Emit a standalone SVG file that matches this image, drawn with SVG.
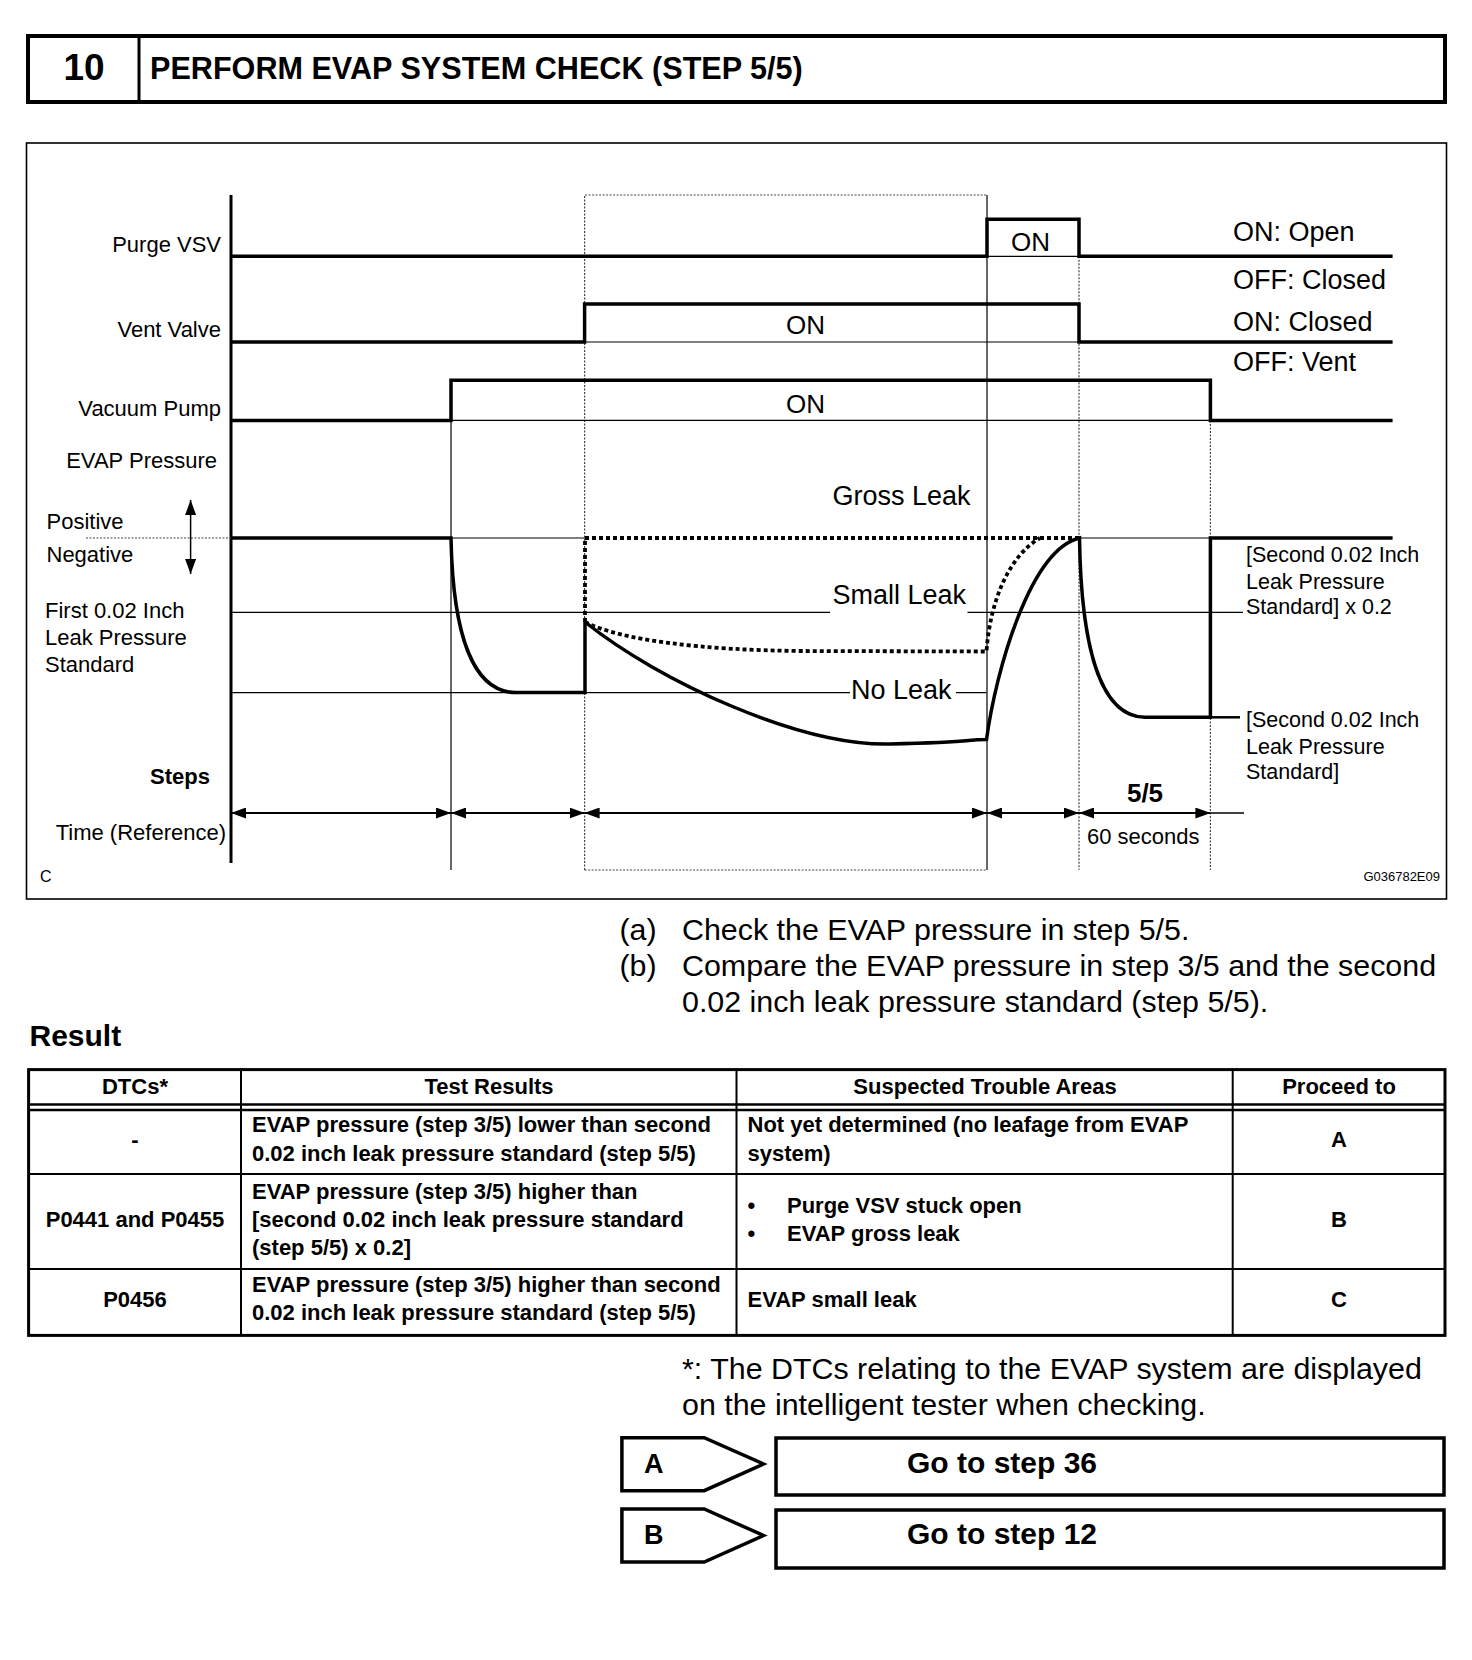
<svg xmlns="http://www.w3.org/2000/svg" width="1472" height="1660" viewBox="0 0 1472 1660">
<style>
text{font-family:"Liberation Sans",Arial,sans-serif;fill:#000}
.r22{font-size:22px}
.r21{font-size:21.5px}
.r27{font-size:27px}
.r30{font-size:30.4px}
.b22{font-size:22px;font-weight:bold}
.b30{font-size:30px;font-weight:bold}
.mid{text-anchor:middle}
.end{text-anchor:end}
.thick{fill:none;stroke:#000;stroke-width:3.5;stroke-linejoin:miter}
.thin{fill:none;stroke:#000;stroke-width:1.2}
.dot{fill:none;stroke:#444;stroke-width:1.2;stroke-dasharray:2 1.5}
.dash{fill:none;stroke:#000;stroke-width:3.8;stroke-dasharray:4 3}
.frame{fill:none;stroke:#000;stroke-width:1.6}
.box{fill:#fff;stroke:#000;stroke-width:3.5}
.tl{stroke:#000;stroke-width:2;fill:none}
</style>
<defs>
<marker id="ah" viewBox="0 0 15 11" refX="15" refY="5.5" markerWidth="15" markerHeight="11" markerUnits="userSpaceOnUse" orient="auto-start-reverse">
<path d="M0,0 L15,5.5 L0,11 Z" fill="#000"/>
</marker>
</defs>

<g id="header">
<rect x="28" y="36" width="1417" height="66" fill="none" stroke="#000" stroke-width="4"/>
<line x1="139" y1="36" x2="139" y2="102" stroke="#000" stroke-width="3"/>
<text x="84" y="79.5" class="mid" style="font-size:37px;font-weight:bold">10</text>
<text x="150" y="78.5" style="font-size:30.6px;font-weight:bold">PERFORM EVAP SYSTEM CHECK (STEP 5/5)</text>
</g>

<g id="chart">
<rect x="26.5" y="143" width="1420" height="756" class="frame"/>
<line x1="231" y1="195" x2="231" y2="863" stroke="#000" stroke-width="3"/>
<line x1="451" y1="420.4" x2="451" y2="870" class="thin"/>
<line x1="987" y1="195" x2="987" y2="870" class="thin"/>
<path d="M584.6,870 V195 H987 M584.6,870 H987" class="dot"/>
<line x1="1079" y1="256.3" x2="1079" y2="870" class="dot"/>
<line x1="1210.4" y1="420.4" x2="1210.4" y2="870" class="dot"/>
<line x1="987" y1="256.3" x2="1079" y2="256.3" class="thin"/>
<line x1="584.6" y1="342" x2="1079" y2="342" class="thin"/>
<line x1="451" y1="420.4" x2="1210.4" y2="420.4" class="thin"/>
<line x1="86" y1="538" x2="231" y2="538" class="dot"/>
<line x1="451" y1="538" x2="585" y2="538" class="thin"/>
<line x1="1079" y1="538" x2="1210.4" y2="538" class="thin"/>
<path d="M231,612.3 H830 M967.5,612.3 H1243" class="thin"/>
<path d="M231,692.6 H516 M585,692.6 H850 M956,692.6 H986.5" class="thin"/>
<line x1="1210.4" y1="717.3" x2="1240" y2="717.3" stroke="#000" stroke-width="2.5"/>
</g>

<g id="labels-left">
<text x="221" y="252" class="r22 end">Purge VSV</text>
<text x="221" y="337" class="r22 end">Vent Valve</text>
<text x="221" y="416" class="r22 end">Vacuum Pump</text>
<text x="217" y="468" class="r22 end">EVAP Pressure</text>
<text x="46.5" y="529" class="r22">Positive</text>
<text x="46.5" y="561.5" class="r22">Negative</text>
<line x1="190.6" y1="500" x2="190.6" y2="574" stroke="#000" stroke-width="1.5" marker-start="url(#ah)" marker-end="url(#ah)"/>
<text x="45" y="618" class="r22">First 0.02 Inch</text>
<text x="45" y="645" class="r22">Leak Pressure</text>
<text x="45" y="671.5" class="r22">Standard</text>
<text x="210" y="784" class="b22 end">Steps</text>
<text x="226" y="840" class="r22 end">Time (Reference)</text>
<text x="40" y="882" style="font-size:16px">C</text>
<text x="1440" y="881" class="end" style="font-size:13px">G036782E09</text>
</g>

<g id="signals">
<path d="M231,256.3 H987 V219.3 H1079 V256.3 H1392.6" class="thick"/>
<text x="1030.5" y="251" class="mid" style="font-size:26px">ON</text>
<path d="M231,342 H584.6 V304 H1079 V342 H1392.6" class="thick"/>
<text x="805.5" y="334" class="mid" style="font-size:26px">ON</text>
<path d="M231,420.4 H451 V380.2 H1210.4 V420.4 H1392.6" class="thick"/>
<text x="805.5" y="412.5" class="mid" style="font-size:26px">ON</text>
<text x="1233" y="240.5" class="r27">ON: Open</text>
<text x="1233" y="288.5" class="r27">OFF: Closed</text>
<text x="1233" y="330.5" class="r27">ON: Closed</text>
<text x="1233" y="370.5" class="r27">OFF: Vent</text>
</g>

<g id="pressure">
<path d="M231,538 H451 C453,640 475,692.6 516,692.6 H585 V622" class="thick"/>
<path d="M585,622 C660,682 800,746 890,744 S960,740 986.5,739.5 C996,670 1030,550 1079.5,538 C1081,640 1098,717 1145,717.3 H1210.4 V538 H1392.6" class="thick"/>
<path d="M585,622 C620,640 700,650 800,651 L986.5,651.5 C990,600 1010,555 1040,538" class="dash"/>
<path d="M585,622 V538 H1079.5" class="dash"/>
<text x="832.5" y="505" class="r27">Gross Leak</text>
<text x="832.5" y="604" class="r27">Small Leak</text>
<text x="851" y="698.5" class="r27">No Leak</text>
<text x="1246" y="562" class="r21">[Second 0.02 Inch</text>
<text x="1246" y="588.5" class="r21">Leak Pressure</text>
<text x="1246" y="613.5" class="r21">Standard] x 0.2</text>
<text x="1246" y="727" class="r21">[Second 0.02 Inch</text>
<text x="1246" y="753.5" class="r21">Leak Pressure</text>
<text x="1246" y="778.5" class="r21">Standard]</text>
</g>

<g id="connectors">
<line x1="231" y1="813" x2="451" y2="813" stroke="#000" stroke-width="2" marker-start="url(#ah)" marker-end="url(#ah)"/>
<line x1="451" y1="813" x2="584.6" y2="813" stroke="#000" stroke-width="2" marker-start="url(#ah)" marker-end="url(#ah)"/>
<line x1="584.6" y1="813" x2="987" y2="813" stroke="#000" stroke-width="2" marker-start="url(#ah)" marker-end="url(#ah)"/>
<line x1="987" y1="813" x2="1079" y2="813" stroke="#000" stroke-width="2" marker-start="url(#ah)" marker-end="url(#ah)"/>
<line x1="1079" y1="813" x2="1210.4" y2="813" stroke="#000" stroke-width="2" marker-start="url(#ah)" marker-end="url(#ah)"/>
<line x1="1210.4" y1="813" x2="1244" y2="813" stroke="#000" stroke-width="1.5"/>
</g>
<text x="1145" y="802" class="mid" style="font-size:26px;font-weight:bold">5/5</text>
<text x="1087" y="844" class="r22">60 seconds</text>

<g id="instructions">
<text x="619.5" y="939.5" class="r30">(a)</text>
<text x="682" y="939.5" class="r30">Check the EVAP pressure in step 5/5.</text>
<text x="619.5" y="975.5" class="r30">(b)</text>
<text x="682" y="975.5" class="r30">Compare the EVAP pressure in step 3/5 and the second</text>
<text x="682" y="1011.5" class="r30">0.02 inch leak pressure standard (step 5/5).</text>
<text x="29.5" y="1046" class="b30">Result</text>
</g>

<g id="table">
<rect x="28.6" y="1069.6" width="1416.4" height="265.8" fill="none" stroke="#000" stroke-width="3"/>
<line x1="28.6" y1="1104.5" x2="1445" y2="1104.5" stroke="#000" stroke-width="2.5"/>
<line x1="28.6" y1="1110" x2="1445" y2="1110" stroke="#000" stroke-width="2.5"/>
<line x1="28.6" y1="1174" x2="1445" y2="1174" class="tl"/>
<line x1="28.6" y1="1269" x2="1445" y2="1269" class="tl"/>
<line x1="241" y1="1069.6" x2="241" y2="1335.4" class="tl"/>
<line x1="736.5" y1="1069.6" x2="736.5" y2="1335.4" class="tl"/>
<line x1="1232.7" y1="1069.6" x2="1232.7" y2="1335.4" class="tl"/>
<text x="135" y="1094" class="b22 mid">DTCs*</text>
<text x="489" y="1094" class="b22 mid">Test Results</text>
<text x="985" y="1094" class="b22 mid">Suspected Trouble Areas</text>
<text x="1339" y="1094" class="b22 mid">Proceed to</text>
<text x="135" y="1147" class="b22 mid">-</text>
<text x="252" y="1132" class="b22">EVAP pressure (step 3/5) lower than second</text>
<text x="252" y="1160.5" class="b22">0.02 inch leak pressure standard (step 5/5)</text>
<text x="747.5" y="1132" class="b22">Not yet determined (no leafage from EVAP</text>
<text x="747.5" y="1160.5" class="b22">system)</text>
<text x="1339" y="1147" class="b22 mid">A</text>
<text x="135" y="1227" class="b22 mid">P0441 and P0455</text>
<text x="252" y="1199" class="b22">EVAP pressure (step 3/5) higher than</text>
<text x="252" y="1227" class="b22">[second 0.02 inch leak pressure standard</text>
<text x="252" y="1254.5" class="b22">(step 5/5) x 0.2]</text>
<text x="747.5" y="1213" class="b22">•</text>
<text x="787" y="1213" class="b22">Purge VSV stuck open</text>
<text x="747.5" y="1240.5" class="b22">•</text>
<text x="787" y="1240.5" class="b22">EVAP gross leak</text>
<text x="1339" y="1227" class="b22 mid">B</text>
<text x="135" y="1307" class="b22 mid">P0456</text>
<text x="252" y="1292" class="b22">EVAP pressure (step 3/5) higher than second</text>
<text x="252" y="1320" class="b22">0.02 inch leak pressure standard (step 5/5)</text>
<text x="747.5" y="1307" class="b22">EVAP small leak</text>
<text x="1339" y="1307" class="b22 mid">C</text>
</g>

<g id="footnote">
<text x="682" y="1379" class="r30">*: The DTCs relating to the EVAP system are displayed</text>
<text x="682" y="1415" class="r30">on the intelligent tester when checking.</text>
</g>

<g id="result-A">
<path d="M621.9,1437.7 H704.2 L763.5,1464 L704.2,1490.7 H621.9 Z" class="box"/>
<text x="644" y="1473" style="font-size:27px;font-weight:bold">A</text>
<rect x="776" y="1438" width="668" height="57" class="box"/>
<text x="907" y="1473" class="b30">Go to step 36</text>
</g>
<g id="result-B">
<path d="M621.9,1509 H704.2 L763.5,1535.5 L704.2,1562 H621.9 Z" class="box"/>
<text x="644" y="1544" style="font-size:27px;font-weight:bold">B</text>
<rect x="776" y="1510" width="668" height="58" class="box"/>
<text x="907" y="1544" class="b30">Go to step 12</text>
</g>
</svg>
